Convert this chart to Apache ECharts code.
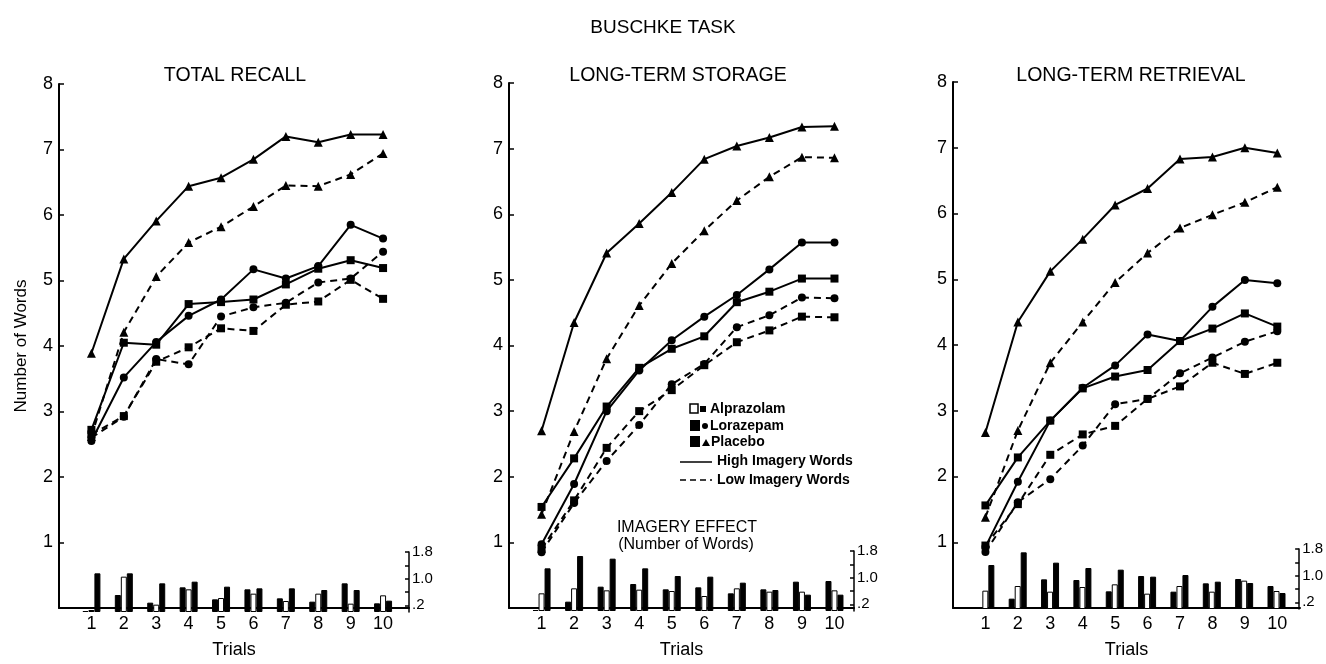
<!DOCTYPE html>
<html><head><meta charset="utf-8">
<script src="https://cdn.jsdelivr.net/npm/echarts@6/dist/echarts.min.js"></script>
<style>html,body{margin:0;padding:0;background:#fff}#c{width:1326px;height:664px}</style>
</head><body><div id="c"></div>
<script>
// ---------------- DATA ----------------
const trials = [1, 2, 3, 4, 5, 6, 7, 8, 9, 10];
const mainTitle = 'BUSCHKE TASK';
const panelTitles = ['TOTAL RECALL', 'LONG-TERM STORAGE', 'LONG-TERM RETRIEVAL'];
const yTickLabels = [1, 2, 3, 4, 5, 6, 7, 8];
const effectTickLabels = [0.2, 1.0, 1.8];

// Total recall
const trAlpHigh = [2.72, 4.05, 4.02, 4.64, 4.67, 4.71, 4.94, 5.18, 5.31, 5.19];
const trAlpLow  = [2.65, 2.93, 3.76, 3.98, 4.27, 4.23, 4.63, 4.68, 5.01, 4.72];
const trLorHigh = [2.55, 3.52, 4.06, 4.46, 4.71, 5.17, 5.03, 5.22, 5.85, 5.64];
const trLorLow  = [2.60, 2.92, 3.80, 3.72, 4.45, 4.59, 4.66, 4.97, 5.03, 5.44];
const trPlaHigh = [3.89, 5.33, 5.91, 6.44, 6.57, 6.85, 7.20, 7.11, 7.23, 7.23];
const trPlaLow  = [2.62, 4.21, 5.06, 5.58, 5.82, 6.13, 6.45, 6.44, 6.62, 6.94];
const trEffLor  = [0.03, 0.51, 0.28, 0.74, 0.38, 0.68, 0.41, 0.31, 0.86, 0.26];
const trEffAlp  = [0.06, 1.06, 0.22, 0.68, 0.42, 0.55, 0.33, 0.55, 0.25, 0.50];
const trEffPla  = [1.16, 1.16, 0.86, 0.91, 0.76, 0.71, 0.71, 0.66, 0.66, 0.34];

// Long-term storage
const lsAlpHigh = [1.54, 2.28, 3.07, 3.66, 3.95, 4.14, 4.66, 4.82, 5.02, 5.02];
const lsAlpLow  = [0.90, 1.64, 2.44, 3.00, 3.32, 3.70, 4.05, 4.23, 4.44, 4.43];
const lsLorHigh = [0.97, 1.89, 3.00, 3.62, 4.08, 4.44, 4.77, 5.16, 5.57, 5.57];
const lsLorLow  = [0.85, 1.60, 2.24, 2.79, 3.41, 3.72, 4.28, 4.46, 4.73, 4.72];
const lsPlaHigh = [2.70, 4.35, 5.41, 5.86, 6.33, 6.84, 7.04, 7.17, 7.33, 7.34];
const lsPlaLow  = [1.43, 2.69, 3.80, 4.61, 5.25, 5.75, 6.21, 6.57, 6.87, 6.86];
const lsEffLor  = [0.03, 0.28, 0.73, 0.81, 0.65, 0.71, 0.53, 0.65, 0.88, 0.90];
const lsEffAlp  = [0.53, 0.68, 0.62, 0.64, 0.60, 0.45, 0.68, 0.58, 0.58, 0.62];
const lsEffPla  = [1.28, 1.65, 1.57, 1.28, 1.05, 1.03, 0.85, 0.63, 0.49, 0.49];

// Long-term retrieval
const lrAlpHigh = [1.56, 2.29, 2.85, 3.34, 3.52, 3.62, 4.06, 4.25, 4.48, 4.28];
const lrAlpLow  = [0.95, 1.58, 2.33, 2.64, 2.77, 3.18, 3.37, 3.73, 3.56, 3.73];
const lrLorHigh = [0.93, 1.92, 2.85, 3.35, 3.69, 4.16, 4.06, 4.58, 4.99, 4.94];
const lrLorLow  = [0.85, 1.61, 1.96, 2.47, 3.10, 3.18, 3.57, 3.81, 4.05, 4.21];
const lrPlaHigh = [2.67, 4.35, 5.12, 5.61, 6.13, 6.38, 6.83, 6.86, 7.00, 6.92];
const lrPlaLow  = [1.38, 2.70, 3.73, 4.35, 4.95, 5.40, 5.78, 5.98, 6.17, 6.40];
const lrEffLor  = [0.03, 0.31, 0.89, 0.87, 0.53, 0.99, 0.52, 0.77, 0.90, 0.69];
const lrEffAlp  = [0.55, 0.69, 0.52, 0.66, 0.74, 0.46, 0.69, 0.52, 0.85, 0.54];
const lrEffPla  = [1.32, 1.70, 1.39, 1.23, 1.18, 0.97, 1.02, 0.82, 0.78, 0.48];

// ---------------- LAYOUT ----------------
const FONT = '"Liberation Sans", Arial, sans-serif';
const panels = [
  { left: 59,  top: 84, width: 350, height: 528, xMax: 10.8, titleX: 235,
    lines: [trAlpHigh, trAlpLow, trLorHigh, trLorLow, trPlaHigh, trPlaLow],
    bars: [trEffLor, trEffAlp, trEffPla], yName: 'Number of Words' },
  { left: 509, top: 83, width: 345, height: 528, xMax: 10.6, titleX: 678,
    lines: [lsAlpHigh, lsAlpLow, lsLorHigh, lsLorLow, lsPlaHigh, lsPlaLow],
    bars: [lsEffLor, lsEffAlp, lsEffPla], yName: '' },
  { left: 953, top: 82, width: 347, height: 527, xMax: 10.7, titleX: 1131,
    lines: [lrAlpHigh, lrAlpLow, lrLorHigh, lrLorLow, lrPlaHigh, lrPlaLow],
    bars: [lrEffLor, lrEffAlp, lrEffPla], yName: '' }
];
const lineDefs = [
  { name: 'Alprazolam High', symbol: 'rect', size: 8, dash: 'solid' },
  { name: 'Alprazolam Low', symbol: 'rect', size: 8, dash: [7, 5] },
  { name: 'Lorazepam High', symbol: 'circle', size: 8, dash: 'solid' },
  { name: 'Lorazepam Low', symbol: 'circle', size: 8, dash: [7, 5] },
  { name: 'Placebo High', symbol: 'triangle', size: 9, dash: 'solid' },
  { name: 'Placebo Low', symbol: 'triangle', size: 9, dash: [7, 5] }
];
const barDefs = [
  { name: 'Lorazepam effect', fill: '#000' },
  { name: 'Alprazolam effect', fill: '#fff' },
  { name: 'Placebo effect', fill: '#000' }
];

const grid = [], xAxis = [], yAxis = [], series = [], graphic = [];
const xLabelFmt = v => (Number.isInteger(v) && v >= 1 && v <= 10) ? String(v) : '';

panels.forEach((p, i) => {
  const effH = 60;
  grid.push({ left: p.left, top: p.top, width: p.width, height: p.height });
  grid.push({ left: p.left, top: p.top + p.height - effH, width: p.width, height: effH });
  const gm = 2 * i, gb = 2 * i + 1;
  xAxis.push({
    type: 'value', gridIndex: gm, min: 0, max: p.xMax, interval: 1,
    axisLine: { show: true, onZero: false, lineStyle: { color: '#000', width: 2 } },
    axisTick: { show: false }, splitLine: { show: false },
    axisLabel: { formatter: xLabelFmt, color: '#000', fontSize: 18, fontFamily: FONT, margin: 7 },
    name: 'Trials', nameLocation: 'middle', nameGap: 33,
    nameTextStyle: { color: '#000', fontSize: 18, fontFamily: FONT }
  });
  xAxis.push({
    type: 'value', gridIndex: gb, min: 0, max: p.xMax, show: false
  });
  yAxis.push({
    type: 'value', gridIndex: gm, min: 0, max: 8, interval: 1,
    axisLine: { show: true, onZero: false, lineStyle: { color: '#000', width: 2 } },
    axisTick: { show: true, inside: true, length: 5, lineStyle: { color: '#000', width: 1.5 } },
    splitLine: { show: false },
    axisLabel: { formatter: v => yTickLabels.includes(v) ? String(v) : '', color: '#000', fontSize: 18, fontFamily: FONT, margin: 6 },
    name: p.yName, nameLocation: 'middle', nameGap: 29,
    nameTextStyle: { color: '#000', fontSize: 17, fontFamily: FONT }
  });
  yAxis.push({
    type: 'value', gridIndex: gb, position: 'right', min: 0, max: 1.8,
    axisLine: { show: true, onZero: false, lineStyle: { color: '#000', width: 1.5 } },
    axisTick: { show: true, inside: true, length: 4, customValues: [0.2, 0.6, 1.0, 1.4, 1.8], lineStyle: { color: '#000', width: 1.5 } },
    splitLine: { show: false },
    axisLabel: { customValues: effectTickLabels, formatter: v => Math.abs(v - 0.2) < 1e-6 ? '.2' : v.toFixed(1),
      color: '#000', fontSize: 15, fontFamily: FONT, margin: 3 }
  });
  p.bars.forEach((arr, k) => {
    series.push({
      type: 'bar', name: barDefs[k].name, xAxisIndex: gb, yAxisIndex: gb,
      barWidth: 6, barGap: '0%',
      itemStyle: { color: barDefs[k].fill, borderColor: '#000', borderWidth: 1 },
      data: trials.map((t, j) => [t, arr[j]]), z: 2
    });
  });
  p.lines.forEach((arr, k) => {
    const d = lineDefs[k];
    series.push({
      type: 'line', name: d.name, xAxisIndex: gm, yAxisIndex: gm,
      symbol: d.symbol, symbolSize: d.size, showSymbol: true,
      itemStyle: { color: '#000' },
      lineStyle: { color: '#000', width: 2, type: d.dash },
      data: trials.map((t, j) => [t, arr[j]]), z: 3
    });
  });
  graphic.push({
    type: 'text', x: p.titleX, y: 76,
    style: { text: panelTitles[i], fill: '#000', font: '19.5px ' + FONT, textAlign: 'center', textVerticalAlign: 'middle' }
  });
});

graphic.push({ type: 'text', x: 663, y: 28,
  style: { text: mainTitle, fill: '#000', font: '19px ' + FONT, textAlign: 'center', textVerticalAlign: 'middle' } });

// Legend (panel 2)
const lf = 'bold 14px ' + FONT;
graphic.push(
  { type: 'rect', shape: { x: 690, y: 404, width: 8, height: 9 }, style: { fill: '#fff', stroke: '#000', lineWidth: 1.5 } },
  { type: 'rect', shape: { x: 700, y: 406, width: 6, height: 6 }, style: { fill: '#000' } },
  { type: 'text', x: 710, y: 409, style: { text: 'Alprazolam', fill: '#000', font: lf, textVerticalAlign: 'middle' } },
  { type: 'rect', shape: { x: 690, y: 420, width: 10, height: 11 }, style: { fill: '#000' } },
  { type: 'circle', shape: { cx: 705, cy: 426, r: 3 }, style: { fill: '#000' } },
  { type: 'text', x: 710, y: 426, style: { text: 'Lorazepam', fill: '#000', font: lf, textVerticalAlign: 'middle' } },
  { type: 'rect', shape: { x: 690, y: 436, width: 10, height: 11 }, style: { fill: '#000' } },
  { type: 'polygon', shape: { points: [[702, 446], [710, 446], [706, 439]] }, style: { fill: '#000' } },
  { type: 'text', x: 711, y: 442, style: { text: 'Placebo', fill: '#000', font: lf, textVerticalAlign: 'middle' } },
  { type: 'line', shape: { x1: 680, y1: 462, x2: 712, y2: 462 }, style: { stroke: '#000', lineWidth: 1.5 } },
  { type: 'text', x: 717, y: 461, style: { text: 'High Imagery Words', fill: '#000', font: lf, textVerticalAlign: 'middle' } },
  { type: 'line', shape: { x1: 680, y1: 480, x2: 712, y2: 480 }, style: { stroke: '#000', lineWidth: 1.5, lineDash: [6, 4] } },
  { type: 'text', x: 717, y: 480, style: { text: 'Low Imagery Words', fill: '#000', font: lf, textVerticalAlign: 'middle' } },
  { type: 'text', x: 687, y: 528, style: { text: 'IMAGERY EFFECT', fill: '#000', font: '16px ' + FONT, textAlign: 'center', textVerticalAlign: 'middle' } },
  { type: 'text', x: 686, y: 545, style: { text: '(Number of Words)', fill: '#000', font: '16px ' + FONT, textAlign: 'center', textVerticalAlign: 'middle' } }
);

const chart = echarts.init(document.getElementById('c'), null, { renderer: 'canvas' });
chart.setOption({
  backgroundColor: '#fff',
  animation: false,
  grid, xAxis, yAxis, series, graphic
});
</script>
</body></html>
